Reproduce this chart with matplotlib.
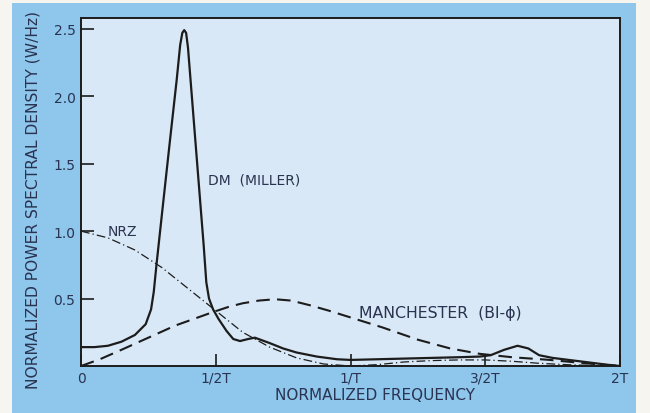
import numpy as np
import matplotlib.pyplot as plt
from matplotlib.patches import Rectangle


### data (frequency in units of 1/T)
dm_f = [0, 0.05, 0.10, 0.15, 0.20, 0.24, 0.26, 0.27, 0.28, 0.30, 0.33, 0.355, 0.368,
        0.376, 0.383, 0.390, 0.397, 0.42, 0.445, 0.455, 0.465, 0.475, 0.49, 0.51, 0.54,
        0.565, 0.59, 0.62, 0.645, 0.70, 0.75, 0.80, 0.875, 0.95, 1.0, 1.1, 1.2,
        1.3, 1.4, 1.48, 1.52, 1.57, 1.62, 1.66, 1.70, 1.75, 1.85, 1.95, 2.0]
dm_p = [0.14, 0.14, 0.15, 0.18, 0.23, 0.31, 0.42, 0.55, 0.75, 1.12, 1.67, 2.12, 2.38,
        2.47, 2.49, 2.47, 2.36, 1.78, 1.15, 0.90, 0.62, 0.50, 0.42, 0.35, 0.26,
        0.20, 0.185, 0.20, 0.21, 0.17, 0.13, 0.10, 0.07, 0.05, 0.045, 0.05, 0.055,
        0.06, 0.065, 0.07, 0.08, 0.12, 0.15, 0.13, 0.08, 0.06, 0.035, 0.01, 0.0]

nrz_f = [0, 0.1, 0.2, 0.3, 0.4, 0.5, 0.6, 0.7, 0.8, 0.9, 1.0,
         1.1, 1.2, 1.3, 1.4, 1.5, 1.6, 1.7, 1.8, 1.9, 2.0]
nrz_p = [1.0, 0.95, 0.86, 0.73, 0.57, 0.41, 0.25, 0.14, 0.06, 0.015, 0.0,
         0.01, 0.03, 0.04, 0.045, 0.045, 0.035, 0.02, 0.01, 0.003, 0.0]

man_f = [0, 0.07, 0.15, 0.25, 0.35, 0.49, 0.55, 0.60, 0.66, 0.72, 0.78, 0.85,
         0.92, 1.0, 1.12, 1.25, 1.37, 1.48, 1.60, 1.74, 1.87, 2.0]
man_p = [0.0, 0.05, 0.12, 0.21, 0.30, 0.40, 0.44, 0.465, 0.485, 0.495, 0.485, 0.45,
         0.41, 0.36, 0.285, 0.195, 0.13, 0.09, 0.065, 0.045, 0.02, 0.0]

x_ticks = [0, 0.5, 1.0, 1.5, 2.0]
x_labels = ['0', '1/2T', '1/T', '3/2T', '2T']
y_ticks = [0.5, 1.0, 1.5, 2.0, 2.5]
y_labels = ['0.5', '1.0', '1.5', '2.0', '2.5']

### colours
blue = '#8ec6ec'
pale = '#d9e8f6'
paper = '#f6f5f0'
ink = '#1c1c1c'
txt = '#2a3350'


### figure: blue card with a thin strip of paper at top, left and right
fig = plt.figure(figsize=(6.5, 4.14), dpi=100, facecolor=blue)
for (x0, y0, w, h) in [(0, 0, 12/650, 1), (636/650, 0, 14/650, 1), (0, 410/414, 1, 4/414)]:
    fig.patches.append(Rectangle((x0, y0), w, h, transform=fig.transFigure,
                                 facecolor=paper, edgecolor='none', zorder=-5))

ax = fig.add_axes([81/650, 47/414, 539/650, 348/414])
ax.set_facecolor(pale)

ax.plot(dm_f, dm_p, color=ink, lw=1.6, solid_joinstyle='round')
ax.plot(nrz_f, nrz_p, color=ink, lw=0.9, linestyle=(0, (7, 2.5, 1, 2.5)))
ax.plot(man_f, man_p, color=ink, lw=1.5, linestyle=(0, (6.5, 3.5)))

ax.set_xlim(0, 2)
ax.set_ylim(0, 2.58)
ax.set_xticks(x_ticks)
ax.set_xticklabels(x_labels)
ax.set_yticks(y_ticks)
ax.set_yticklabels(y_labels)
ax.tick_params(direction='in', length=9, width=1.2, color=ink, labelcolor=txt,
               labelsize=10)
ax.tick_params(axis='y', pad=4)
for s in ax.spines.values():
    s.set_color(ink)
    s.set_linewidth(1.4)

### labels
fig.text(33/650, 1 - 200/414, 'NORMALIZED POWER SPECTRAL DENSITY (W/Hz)', color=txt,
         fontsize=11.2, rotation=90, ha='center', va='center')
fig.text(375/650, 1 - 396/414, 'NORMALIZED FREQUENCY', color=txt, fontsize=11,
         ha='center', va='center')

ax.text(0.47, 1.38, 'DM  (MILLER)', color=txt, fontsize=10, va='center')
ax.text(0.10, 1.0, 'NRZ', color=txt, fontsize=10, va='center')
ax.text(1.03, 0.40, 'MANCHESTER  (BI-ϕ)', color=txt, fontsize=11.3, va='center')

plt.savefig('out.png', dpi=100, facecolor=fig.get_facecolor())
